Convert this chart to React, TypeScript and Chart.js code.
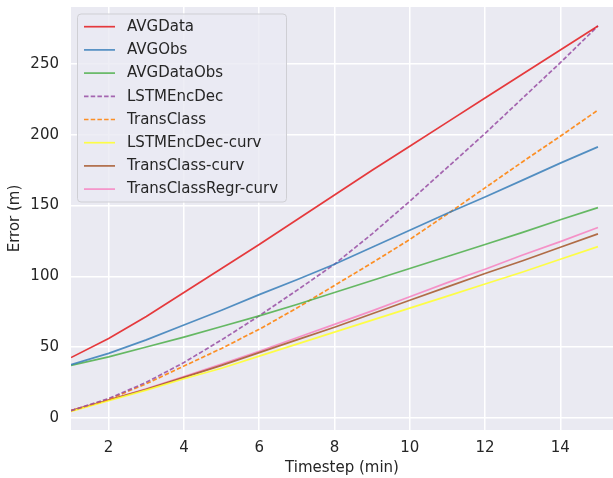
import React, { useEffect, useRef } from "react";
import { Chart, registerables } from "chart.js";

Chart.register(...registerables);

const timesteps = [1, 2, 3, 4, 5, 6, 7, 8, 9, 10, 11, 12, 13, 14, 15];

const avgData = [42.5, 56, 71.5, 88.5, 105.5, 122.5, 140, 157.5, 175, 192, 209, 226, 243, 260, 277];
const avgObs = [37.5, 45.5, 55, 65.5, 76, 87, 97.5, 108.5, 120.5, 132.5, 144.5, 156, 168, 180, 191.5];
const avgDataObs = [37, 43, 50, 57, 64.5, 72, 80, 88.5, 97, 105.5, 114, 122.5, 131, 140, 148.5];
const lstmEncDec = [5, 13.5, 25, 39, 55, 72, 90, 108.5, 130, 153, 177, 201, 226, 251, 277];
const transClass = [5, 13, 24, 36.5, 49, 62.5, 77.5, 93.5, 109.5, 126, 144, 162.5, 181, 199, 217.5];
const lstmEncDecCurv = [4.5, 12, 19.5, 27.5, 35, 43.5, 52, 60.5, 69, 77.5, 86, 94.5, 103, 112, 121];
const transClassCurv = [5, 12.5, 20, 28.5, 37, 46, 55, 64, 73.5, 83, 92.5, 102, 111, 120.5, 130];
const transClassRegrCurv = [5, 12.5, 20.5, 29, 38, 47, 56.5, 66, 75.5, 85.5, 95.5, 105, 115, 124.5, 134.5];

const seriesNames = [
  "AVGData",
  "AVGObs",
  "AVGDataObs",
  "LSTMEncDec",
  "TransClass",
  "LSTMEncDec-curv",
  "TransClass-curv",
  "TransClassRegr-curv",
];
const seriesValues = [avgData, avgObs, avgDataObs, lstmEncDec, transClass, lstmEncDecCurv, transClassCurv, transClassRegrCurv];
const seriesColors = [
  "rgba(228,26,28,0.85)",
  "rgba(55,126,184,0.85)",
  "rgba(77,175,74,0.85)",
  "rgba(152,78,163,0.85)",
  "rgba(255,127,0,0.85)",
  "rgba(255,255,51,0.9)",
  "rgba(166,86,40,0.85)",
  "rgba(247,129,191,0.85)",
];
const seriesDashed = [false, false, false, true, true, false, false, false];

const xTicks = [2, 4, 6, 8, 10, 12, 14];
const yTicks = [0, 50, 100, 150, 200, 250];

const FONT = "'DejaVu Sans', sans-serif";
const TEXT = "#262626";
const DASH = [4.5, 2.2];
const LW = 1.7;

const legendPlugin = {
  id: "innerLegend",
  afterDraw(chart: any) {
    const ctx = chart.ctx as CanvasRenderingContext2D;
    const x0 = 77.5, y0 = 14, w = 209, h = 188, r = 3.5;
    ctx.save();
    ctx.beginPath();
    ctx.moveTo(x0 + r, y0);
    ctx.arcTo(x0 + w, y0, x0 + w, y0 + h, r);
    ctx.arcTo(x0 + w, y0 + h, x0, y0 + h, r);
    ctx.arcTo(x0, y0 + h, x0, y0, r);
    ctx.arcTo(x0, y0, x0 + w, y0, r);
    ctx.closePath();
    ctx.fillStyle = "rgba(234,234,242,0.8)";
    ctx.fill();
    ctx.strokeStyle = "#cfcfd4";
    ctx.lineWidth = 1;
    ctx.stroke();
    ctx.font = `15px ${FONT}`;
    ctx.textBaseline = "middle";
    ctx.textAlign = "left";
    seriesNames.forEach((name, i) => {
      const cy = 26.7 + i * 23.2;
      ctx.beginPath();
      ctx.setLineDash(seriesDashed[i] ? DASH : []);
      ctx.strokeStyle = seriesColors[i];
      ctx.lineWidth = LW;
      ctx.moveTo(84, cy);
      ctx.lineTo(115, cy);
      ctx.stroke();
      ctx.setLineDash([]);
      ctx.fillStyle = TEXT;
      ctx.fillText(name, 127, cy + 0.5);
    });
    ctx.restore();
  },
};

const bgPlugin = {
  id: "plotBg",
  beforeDraw(chart: any) {
    const { ctx, chartArea } = chart;
    ctx.save();
    ctx.fillStyle = "#eaeaf2";
    ctx.fillRect(chartArea.left, chartArea.top, chartArea.right - chartArea.left, chartArea.bottom - chartArea.top);
    ctx.restore();
  },
};

export default function App() {
  const ref = useRef<HTMLCanvasElement>(null);
  useEffect(() => {
    if (!ref.current) return;
    const datasets = seriesNames.map((name, i) => ({
      label: name,
      data: timesteps.map((t, j) => ({ x: t, y: seriesValues[i][j] })),
      borderColor: seriesColors[i],
      backgroundColor: seriesColors[i],
      borderWidth: LW,
      borderDash: seriesDashed[i] ? DASH : [],
      pointRadius: 0,
      tension: 0,
      fill: false,
    }));
    const chart = new Chart(ref.current, {
      type: "line",
      data: { datasets },
      plugins: [bgPlugin, legendPlugin],
      options: {
        animation: false,
        responsive: false,
        layout: { padding: { top: 7, right: 0, left: 0, bottom: 0 } },
        plugins: { legend: { display: false }, tooltip: { enabled: false } },
        scales: {
          x: {
            type: "linear",
            min: 1,
            max: 15.4,
            afterBuildTicks: (s: any) => {
              s.ticks = xTicks.map((v) => ({ value: v }));
            },
            afterFit: (s: any) => {
              s.height = 48;
              s.paddingLeft = 0;
              s.paddingRight = 0;
            },
            grid: { color: "#ffffff", lineWidth: 1.5, drawTicks: false },
            border: { display: false },
            ticks: { color: TEXT, font: { family: FONT, size: 15 }, padding: 9, maxRotation: 0 },
            title: {
              display: true,
              text: "Timestep (min)",
              color: TEXT,
              font: { family: FONT, size: 15 },
              padding: { top: 2, bottom: 1 },
            },
          },
          y: {
            type: "linear",
            min: -8.7,
            max: 290.4,
            afterBuildTicks: (s: any) => {
              s.ticks = yTicks.map((v) => ({ value: v }));
            },
            afterFit: (s: any) => {
              s.width = 71;
              s.paddingTop = 0;
              s.paddingBottom = 0;
            },
            grid: { color: "#ffffff", lineWidth: 1.5, drawTicks: false },
            border: { display: false },
            ticks: { color: TEXT, font: { family: FONT, size: 15 }, padding: 12 },
            title: {
              display: true,
              text: "Error (m)",
              color: TEXT,
              font: { family: FONT, size: 15 },
              padding: { top: 6, bottom: 2 },
            },
          },
        },
      },
    });
    return () => chart.destroy();
  }, []);
  return (
    <div style={{ position: "absolute", left: 0, top: 0, width: 613, height: 478, background: "#ffffff" }}>
      <canvas ref={ref} width={613} height={478} style={{ display: "block" }} />
    </div>
  );
}
